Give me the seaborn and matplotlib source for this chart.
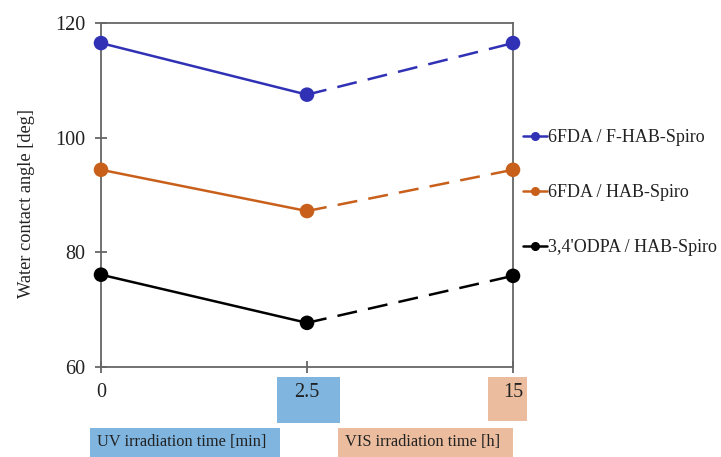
import numpy as np
import pandas as pd
import matplotlib
matplotlib.use("Agg")
import matplotlib.pyplot as plt
from matplotlib.patches import Rectangle
from matplotlib.lines import Line2D
import seaborn as sns

# ---- data ----
x_labels = ["0", "2.5", "15"]
series_names = ["6FDA / F-HAB-Spiro", "6FDA / HAB-Spiro", "3,4'ODPA / HAB-Spiro"]
fhab = [116.5, 107.5, 116.5]
hab = [94.4, 87.2, 94.4]
odpa = [76.1, 67.7, 75.9]
colors = ["#3131b5", "#c8601c", "#000000"]

sns.set_theme(style="white")
plt.rcParams["font.family"] = ["Liberation Serif", "DejaVu Serif"]

fig = plt.figure(figsize=(7.21, 4.57), dpi=100)
W, H = 721, 457
ax = fig.add_axes([101 / W, 1 - 367 / H, (513 - 101) / W, (367 - 23) / H])

pos = list(range(len(x_labels)))
rows = []
for name, vals in zip(series_names, [fhab, hab, odpa]):
    for p, v in zip(pos, vals):
        rows.append({"series": name, "pos": p, "value": v})
df = pd.DataFrame(rows)

palette = dict(zip(series_names, colors))
solid = df[df["pos"] <= 1]
dashed = df[df["pos"] >= 1]
sns.lineplot(data=solid, x="pos", y="value", hue="series", palette=palette,
             linewidth=1.8, legend=False, ax=ax, clip_on=False)
sns.lineplot(data=dashed, x="pos", y="value", hue="series", palette=palette,
             linewidth=1.8, legend=False, ax=ax, clip_on=False)
for line in ax.lines[len(series_names):]:
    line.set_dashes([8, 4.5])
sns.scatterplot(data=df, x="pos", y="value", hue="series", palette=palette,
                s=110, edgecolor="none", legend=False, ax=ax, zorder=5, clip_on=False)

ax.set_xlim(0, 2)
ax.set_ylim(60, 120)
ax.set_yticks([60, 80, 100, 120])
ax.set_xticks(pos)
ax.set_xticklabels(x_labels)
ax.set_xlabel("")
ax.set_ylabel("Water contact angle [deg]", fontsize=13.2, color="#222222")
ax.yaxis.set_label_coords(-0.160, 0.475)
for s in ax.spines.values():
    s.set_color("#666666")
    s.set_linewidth(1.3)
ax.tick_params(axis="both", direction="inout", length=9, width=1.3, color="#666666",
               labelsize=14.5, labelcolor="#222222", bottom=True, left=True)
ax.tick_params(axis="x", pad=7)
ax.tick_params(axis="y", pad=7)

# boxes behind tick labels and axis captions
fig.add_artist(Rectangle((277 / W, 1 - 423 / H), 63 / W, 46 / H, transform=fig.transFigure,
                         facecolor="#7fb5df", edgecolor="none", zorder=0))
fig.add_artist(Rectangle((488 / W, 1 - 421 / H), 39 / W, 44 / H, transform=fig.transFigure,
                         facecolor="#ebbd9e", edgecolor="none", zorder=0))
fig.add_artist(Rectangle((90 / W, 0), 190 / W, 29 / H, transform=fig.transFigure,
                         facecolor="#7fb5df", edgecolor="none", zorder=0))
fig.add_artist(Rectangle((338 / W, 0), 175 / W, 29 / H, transform=fig.transFigure,
                         facecolor="#ebbd9e", edgecolor="none", zorder=0))
fig.text(97 / W, 1 - 442 / H, "UV irradiation time [min]", fontsize=11.8,
         va="center", ha="left", color="#222222")
fig.text(345 / W, 1 - 442 / H, "VIS irradiation time [h]", fontsize=11.8,
         va="center", ha="left", color="#222222")

handles = [Line2D([0], [0], color=c, marker="o", markersize=5.5, linewidth=1.8) for c in colors]
leg = fig.legend(handles, series_names, loc="upper left",
                 bbox_to_anchor=(516 / W, 1 - 122 / H), frameon=False,
                 fontsize=13, handlelength=1.3, handletextpad=0.1,
                 labelspacing=2.1, borderaxespad=0)
for t in leg.get_texts():
    t.set_color("#222222")

fig.savefig("out.png", dpi=100)
